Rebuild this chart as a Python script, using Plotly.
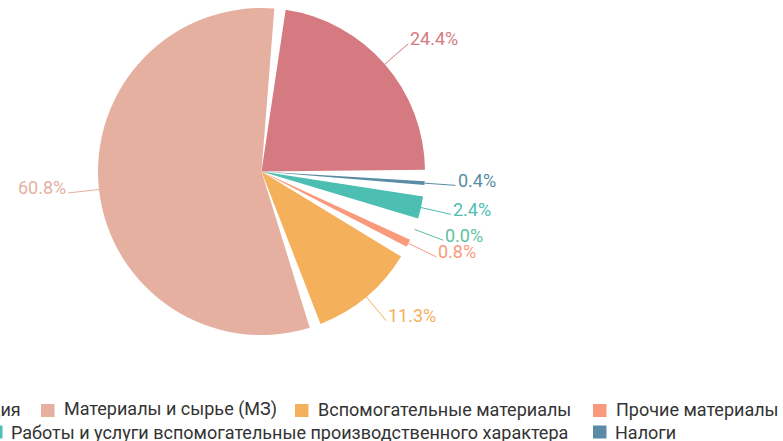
import math
import plotly.graph_objects as go

# ---------------- data ----------------
labels = [
    "Амортизация",
    "Налоги",
    "Работы и услуги вспомогательные производственного характера",
    "Электроэнергия",
    "Прочие материалы",
    "Вспомогательные материалы",
    "Материалы и сырье (МЗ)",
]
values = [24.4, 0.4, 2.4, 0.0, 0.8, 11.3, 60.8]
colors = ["#d47a80", "#5a8ca5", "#4cbeb2", "#5fbf9f", "#fa9a7c", "#f5b05c", "#e5b0a0"]

legend_row1 = ["Амортизация", "Материалы и сырье (МЗ)", "Вспомогательные материалы", "Прочие материалы"]
legend_row2 = ["Работы и услуги вспомогательные производственного характера", "Налоги"]

# ---------------- style / layout ----------------
W, H = 783, 441
CX, CY, R = 261.5, 171.5, 163.5    # pie centre / radius in px
PAD_DEG = 4.0                      # angular padding between slices
ROT = 8.5                          # first slice start (deg clockwise from 12 o'clock)
LINE_LEN = 31
FONT = "Roboto, 'Noto Sans', sans-serif"
FS = 18
color_of = dict(zip(labels, colors))

def px2paper(x, y):
    return x / W, 1 - y / H

n = len(values)
total = sum(values)
gap = total * PAD_DEG / (360 - n * PAD_DEG)

pie_labels, pie_vals, pie_cols = [], [], []
for i, (lab, v, c) in enumerate(zip(labels, values, colors)):
    pie_labels.append(lab); pie_vals.append(v); pie_cols.append(c)
    pie_labels.append("\u200b" * (i + 1)); pie_vals.append(gap); pie_cols.append("rgba(0,0,0,0)")

fig = go.Figure(go.Pie(
    labels=pie_labels, values=pie_vals, sort=False, direction="clockwise",
    rotation=ROT, textinfo="none", showlegend=False,
    marker=dict(colors=pie_cols, line=dict(width=0)),
    domain=dict(x=[(CX - R) / W, (CX + R) / W], y=[1 - (CY + R) / H, 1 - (CY - R) / H]),
    hovertemplate="%{label}: %{value}<extra></extra>",
))

# ---------------- outside labels with leader lines ----------------
annotations, shapes = [], []
all_total = sum(pie_vals)
cum = 0.0
for k, (lab, v) in enumerate(zip(pie_labels, pie_vals)):
    if k % 2 == 0:
        th = math.radians(ROT + (cum + v / 2) * 360 / all_total)
        sx, sy = math.sin(th), -math.cos(th)
        x0, y0 = CX + R * sx, CY + R * sy
        x1, y1 = CX + (R + LINE_LEN) * sx, CY + (R + LINE_LEN) * sy
        c = color_of[lab]
        a0, b0 = px2paper(x0, y0)
        a1, b1 = px2paper(x1, y1)
        shapes.append(dict(type="line", xref="paper", yref="paper", x0=a0, y0=b0, x1=a1, y1=b1,
                           line=dict(color=c, width=1)))
        right = sx > 0
        tx, ty = px2paper(x1 + (1 if right else -1), y1 - 5)
        annotations.append(dict(
            x=tx, y=ty, xref="paper", yref="paper", text=f"{v:.1f}%", showarrow=False,
            xanchor="left" if right else "right", yanchor="middle", borderpad=0,
            font=dict(family=FONT, size=FS, color=c),
        ))
    cum += v

# ---------------- legend (drawn manually, partly cut at left) ----------------
def legend_item(name, text_x, ymid, box_x0, box_ymid, anchor="left"):
    c = color_of[name]
    ax_, ay_ = px2paper(text_x, ymid)
    annotations.append(dict(x=ax_, y=ay_, xref="paper", yref="paper", text=name, showarrow=False,
                            xanchor=anchor, yanchor="middle", borderpad=0,
                            font=dict(family=FONT, size=FS, color="#333333")))
    bx0, by0 = px2paper(box_x0, box_ymid + 6.5)
    bx1, by1 = px2paper(box_x0 + 13.5, box_ymid - 6.5)
    shapes.append(dict(type="rect", xref="paper", yref="paper", x0=bx0, x1=bx1, y0=by0, y1=by1,
                       fillcolor=c, line=dict(width=0)))

row1_y, row2_y = 409, 432
box1_y, box2_y = 410.5, 432
legend_item(legend_row1[0], 22, row1_y, -130, box1_y, anchor="right")
for name, xl in zip(legend_row1[1:], [63, 317, 615]):
    legend_item(name, xl, row1_y, xl - 22, box1_y)
for name, xl in zip(legend_row2, [10, 614]):
    legend_item(name, xl, row2_y, xl - 21, box2_y)

fig.update_layout(
    width=W, height=H, margin=dict(l=0, r=0, t=0, b=0),
    paper_bgcolor="white", plot_bgcolor="white", showlegend=False,
    annotations=annotations, shapes=shapes,
    font=dict(family=FONT),
)
fig.write_html("out.html", config={"displayModeBar": False},
               post_script="document.body.style.margin='0';document.body.style.overflow='hidden';")
